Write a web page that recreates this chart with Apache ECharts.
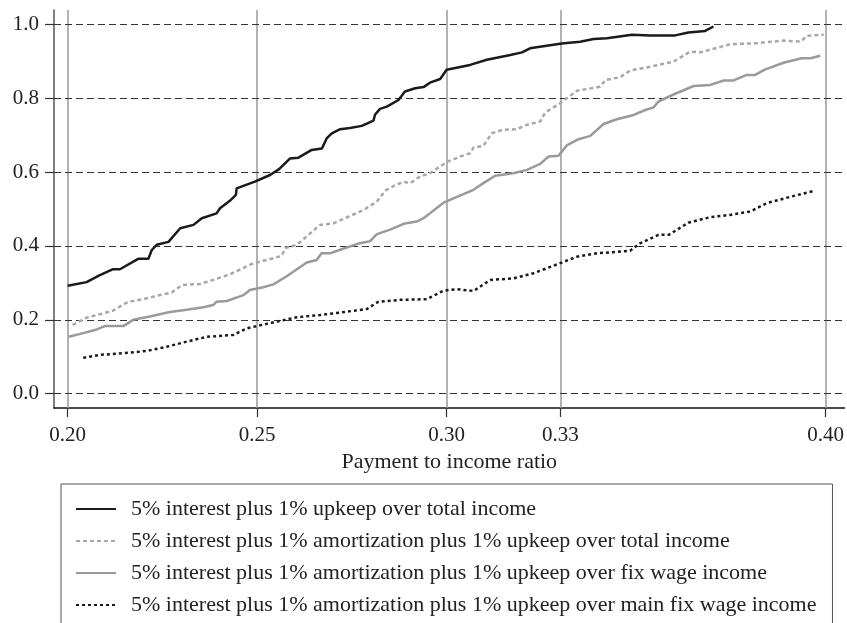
<!DOCTYPE html>
<html>
<head>
<meta charset="utf-8">
<script src="https://cdn.jsdelivr.net/npm/echarts@6/dist/echarts.min.js"></script>
<style>
  html, body { margin: 0; padding: 0; background: #fff; }
  #chart { width: 847px; height: 623px; }
</style>
</head>
<body>
<div id="chart"></div>
<script>
// series names (legend order)
var names = [
  '5% interest plus 1% upkeep over total income',
  '5% interest plus 1% amortization plus 1% upkeep over total income',
  '5% interest plus 1% amortization plus 1% upkeep over fix wage income',
  '5% interest plus 1% amortization plus 1% upkeep over main fix wage income'
]

// tick labels
var xTicks = [0.20, 0.25, 0.30, 0.33, 0.40]
var yTicks = [0.0, 0.2, 0.4, 0.6, 0.8, 1.0]

// [payment to income ratio, share]
var totalIncome = [
  [0.200, 0.292], [0.205, 0.302], [0.2085, 0.321], [0.212, 0.337], [0.2138, 0.337],
  [0.2186, 0.365], [0.2213, 0.365], [0.2222, 0.389], [0.2235, 0.403], [0.2266, 0.411],
  [0.2297, 0.448], [0.2332, 0.457], [0.2354, 0.475], [0.2393, 0.488], [0.2402, 0.502],
  [0.2428, 0.522], [0.2444, 0.538], [0.2446, 0.556], [0.2494, 0.574], [0.2534, 0.592],
  [0.2558, 0.608], [0.2587, 0.637], [0.2609, 0.639], [0.2644, 0.660], [0.2671, 0.664],
  [0.2684, 0.692], [0.2697, 0.705], [0.2719, 0.716], [0.2745, 0.719], [0.2776, 0.725],
  [0.2807, 0.739], [0.2811, 0.755], [0.2824, 0.771], [0.2842, 0.777], [0.2873, 0.795],
  [0.2890, 0.818], [0.2917, 0.827], [0.2939, 0.830], [0.2956, 0.842], [0.2983, 0.852],
  [0.3000, 0.877], [0.3062, 0.890], [0.3106, 0.904], [0.3168, 0.917], [0.3199, 0.924],
  [0.3220, 0.935], [0.3264, 0.942], [0.3304, 0.948], [0.3352, 0.953], [0.3388, 0.960],
  [0.3423, 0.962], [0.3489, 0.972], [0.3537, 0.970], [0.3603, 0.970], [0.3638, 0.978],
  [0.3682, 0.982], [0.3704, 0.994]
]
var amortTotal = [
  [0.2013, 0.186], [0.205, 0.206], [0.2085, 0.215], [0.212, 0.225], [0.216, 0.249],
  [0.220, 0.256], [0.2244, 0.267], [0.2275, 0.274], [0.2301, 0.294], [0.2349, 0.297],
  [0.2384, 0.308], [0.2428, 0.323], [0.249, 0.353], [0.2525, 0.362], [0.2565, 0.373],
  [0.2574, 0.394], [0.2605, 0.403], [0.264, 0.434], [0.2666, 0.457], [0.2701, 0.461],
  [0.278, 0.497], [0.2816, 0.520], [0.2838, 0.550], [0.286, 0.562], [0.2886, 0.574],
  [0.2904, 0.570], [0.293, 0.588], [0.2956, 0.597], [0.300, 0.627], [0.3036, 0.642],
  [0.3062, 0.651], [0.3071, 0.666], [0.3097, 0.671], [0.3119, 0.705], [0.3146, 0.714],
  [0.3185, 0.716], [0.3212, 0.728], [0.3247, 0.737], [0.326, 0.761], [0.3299, 0.786],
  [0.3344, 0.820], [0.3405, 0.831], [0.3419, 0.849], [0.3458, 0.857], [0.3484, 0.875],
  [0.3537, 0.885], [0.3599, 0.899], [0.3643, 0.926], [0.3669, 0.924], [0.3748, 0.946],
  [0.3819, 0.949], [0.3889, 0.956], [0.3934, 0.953], [0.3951, 0.969], [0.3995, 0.972]
]
var amortWage = [
  [0.2003, 0.154], [0.2041, 0.164], [0.2077, 0.174], [0.2098, 0.183], [0.2147, 0.183],
  [0.2173, 0.200], [0.2217, 0.209], [0.227, 0.221], [0.2314, 0.227], [0.2358, 0.234],
  [0.2384, 0.240], [0.2393, 0.249], [0.242, 0.251], [0.2464, 0.267], [0.2481, 0.281],
  [0.2516, 0.288], [0.2543, 0.296], [0.2578, 0.318], [0.2631, 0.355], [0.2657, 0.362],
  [0.267, 0.380], [0.2692, 0.380], [0.2723, 0.391], [0.2763, 0.405], [0.2798, 0.413],
  [0.2816, 0.432], [0.2851, 0.444], [0.289, 0.461], [0.2921, 0.466], [0.2939, 0.475],
  [0.2992, 0.517], [0.3027, 0.533], [0.3071, 0.552], [0.3097, 0.570], [0.3128, 0.590],
  [0.3176, 0.597], [0.3212, 0.606], [0.3247, 0.622], [0.3269, 0.642], [0.3295, 0.644],
  [0.3317, 0.672], [0.3348, 0.689], [0.3379, 0.698], [0.3414, 0.730], [0.3449, 0.743],
  [0.3489, 0.753], [0.3524, 0.768], [0.3546, 0.775], [0.3559, 0.791], [0.3603, 0.812],
  [0.3652, 0.833], [0.3696, 0.836], [0.3731, 0.848], [0.3757, 0.848], [0.3792, 0.863],
  [0.3814, 0.863], [0.3841, 0.878], [0.3889, 0.896], [0.3937, 0.908], [0.396, 0.908],
  [0.3986, 0.915]
]
var amortMainWage = [
  [0.2041, 0.097], [0.2085, 0.105], [0.2164, 0.111], [0.2209, 0.116], [0.2261, 0.127],
  [0.2314, 0.141], [0.2367, 0.154], [0.2437, 0.159], [0.2473, 0.177], [0.2525, 0.189],
  [0.2578, 0.201], [0.2605, 0.207], [0.2666, 0.213], [0.2736, 0.222], [0.2789, 0.229],
  [0.282, 0.249], [0.2877, 0.254], [0.2948, 0.256], [0.2992, 0.279], [0.3027, 0.283],
  [0.3071, 0.278], [0.3115, 0.308], [0.3176, 0.312], [0.3229, 0.326], [0.3291, 0.350],
  [0.3344, 0.371], [0.3397, 0.380], [0.3484, 0.387], [0.351, 0.407], [0.3559, 0.430],
  [0.3586, 0.430], [0.3638, 0.463], [0.3696, 0.478], [0.3748, 0.484], [0.3801, 0.493],
  [0.3845, 0.516], [0.3907, 0.533], [0.3969, 0.549]
]

var font = '"Liberation Serif", "DejaVu Serif", serif'
var chart = echarts.init(document.getElementById('chart'), null, { renderer: 'canvas' })

function lineSeries(name, data, color, type) {
  return {
    name: name,
    type: 'line',
    data: data,
    showSymbol: false,
    symbol: 'none',
    z: 5,
    itemStyle: { color: color },
    lineStyle: { color: color, width: 2.5, type: type }
  }
}

chart.setOption({
  animation: false,
  textStyle: { fontFamily: font },
  grid: { left: 54, top: 10, width: 791, height: 398 },
  xAxis: {
    type: 'value',
    min: 0.1964,
    max: 0.405,
    name: 'Payment to income ratio',
    nameLocation: 'middle',
    nameGap: 41,
    nameTextStyle: { fontFamily: font, fontSize: 22, color: '#222' },
    splitLine: { show: false },
    axisLine: { show: true, onZero: false, lineStyle: { color: '#111', width: 1.5 } },
    axisTick: { show: true, length: 9, customValues: xTicks, lineStyle: { color: '#333', width: 1.2 } },
    axisLabel: {
      customValues: xTicks,
      margin: 17,
      fontFamily: font,
      fontSize: 21,
      color: '#222',
      formatter: function (v) { return v.toFixed(2) }
    }
  },
  yAxis: {
    type: 'value',
    min: -0.0387,
    max: 1.0387,
    splitLine: { show: false },
    axisLine: { show: true, onZero: false, lineStyle: { color: '#555', width: 1.5 } },
    axisTick: { show: true, length: 9, customValues: yTicks, lineStyle: { color: '#333', width: 1.2 } },
    axisLabel: {
      customValues: yTicks,
      margin: 15,
      fontFamily: font,
      fontSize: 21,
      color: '#222',
      formatter: function (v) { return v.toFixed(1) }
    }
  },
  legend: {
    data: names,
    orient: 'vertical',
    left: 61,
    top: 484,
    height: 300,
    itemWidth: 40,
    itemHeight: 14,
    itemGap: 10,
    padding: [14, 16, 14, 14],
    borderColor: '#555',
    borderWidth: 1,
    itemStyle: { opacity: 0 },
    textStyle: { fontFamily: font, fontSize: 22, color: '#222', lineHeight: 22, padding: [0, 0, 0, 10] }
  },
  series: [
    {
      name: 'vgrid',
      type: 'line',
      data: [],
      z: 1,
      markLine: {
        silent: true,
        symbol: ['none', 'none'],
        label: { show: false },
        lineStyle: { color: '#999', width: 1.5, type: 'solid' },
        data: xTicks.map(function (v) { return { xAxis: v } })
      }
    },
    {
      name: 'hgrid',
      type: 'line',
      data: [],
      z: 1,
      markLine: {
        silent: true,
        symbol: ['none', 'none'],
        label: { show: false },
        lineStyle: { color: '#333', width: 1, type: [7, 4] },
        data: yTicks.map(function (v) { return { yAxis: v } })
      }
    },
    lineSeries(names[0], totalIncome, '#1a1a1a', 'solid'),
    lineSeries(names[1], amortTotal, '#a8a8a8', [4, 3]),
    lineSeries(names[2], amortWage, '#9a9a9a', 'solid'),
    lineSeries(names[3], amortMainWage, '#1a1a1a', [3, 3])
  ]
})
</script>
</body>
</html>
